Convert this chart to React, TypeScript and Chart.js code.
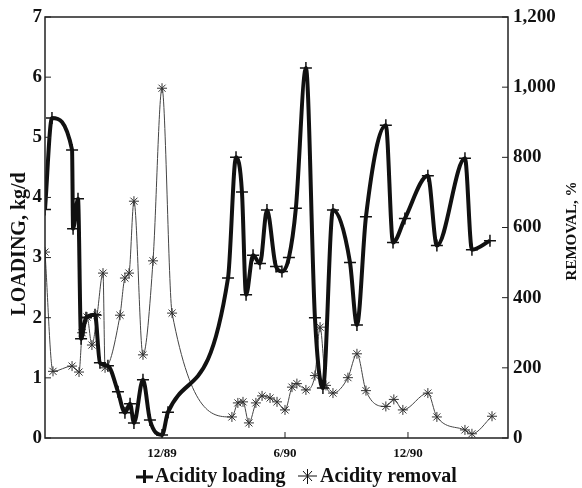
import { useEffect, useRef } from 'react';
import { Chart, registerables } from 'chart.js';

Chart.register(...registerables);

// x values are month numbers counted from January 1989 (12/89 = 11)
const loadingMonth = [5.29, 5.63, 6.61, 6.66, 6.9, 7.05, 7.29, 7.73, 7.97, 8.36, 8.85, 9.19, 9.44, 9.63, 10.07, 10.41, 11.0, 11.29, 14.22, 14.61, 14.9, 15.1, 15.44, 15.78, 16.12, 16.56, 16.85, 17.19, 17.53, 18.02, 18.46, 18.85, 19.34, 20.17, 20.51, 20.95, 21.92, 22.27, 22.85, 23.97, 24.41, 25.78, 26.12, 27.0];
const loadingKgD = [3.8, 5.32, 4.79, 3.48, 3.98, 1.65, 2.0, 2.05, 1.25, 1.2, 0.77, 0.42, 0.57, 0.25, 0.97, 0.3, 0.05, 0.43, 2.66, 4.67, 4.09, 2.38, 3.04, 2.9, 3.79, 2.85, 2.77, 3.0, 3.82, 6.15, 2.0, 0.83, 3.79, 2.92, 1.88, 3.68, 5.2, 3.25, 3.65, 4.36, 3.2, 4.65, 3.13, 3.28];

const removalMonth = [5.29, 5.68, 6.61, 6.95, 7.1, 7.34, 7.58, 7.83, 8.12, 8.22, 8.95, 9.19, 9.39, 9.63, 10.07, 10.56, 11.0, 11.49, 14.41, 14.7, 14.95, 15.24, 15.58, 15.88, 16.27, 16.61, 17.0, 17.34, 17.58, 18.02, 18.46, 18.71, 19.0, 19.34, 20.07, 20.51, 20.95, 21.92, 22.31, 22.75, 23.97, 24.41, 25.78, 26.12, 27.1];
const removalPct = [530, 190, 205, 188, 300, 345, 265, 350, 470, 200, 350, 456, 470, 675, 237, 505, 997, 356, 60, 100, 103, 43, 100, 120, 114, 103, 80, 145, 155, 137, 178, 316, 150, 128, 172, 240, 135, 90, 110, 80, 128, 60, 23, 12, 62];

const xTickMonths = [11, 17, 23];
const xTickLabels = ['12/89', '6/90', '12/90'];

const X_MIN = 5.29;
const X_MAX = 27.88;

const SERIF = '"Liberation Serif", "Times New Roman", serif';
const INK = '#111';

const framePlugin = {
  id: 'frameAndText',
  afterDraw(chart: any) {
    const { ctx, chartArea } = chart;
    const { left, right, top, bottom } = chartArea;
    ctx.save();
    // frame
    ctx.strokeStyle = '#222';
    ctx.lineWidth = 1.5;
    ctx.strokeRect(left, top, right - left, bottom - top);
    // inside tick marks
    ctx.lineWidth = 1;
    const tl = 6;
    chart.scales.x.ticks.forEach((t: any) => {
      const px = chart.scales.x.getPixelForValue(t.value);
      ctx.beginPath();
      ctx.moveTo(px, bottom);
      ctx.lineTo(px, bottom - tl);
      ctx.stroke();
    });
    chart.scales.y.ticks.forEach((t: any) => {
      const py = chart.scales.y.getPixelForValue(t.value);
      ctx.beginPath();
      ctx.moveTo(left, py);
      ctx.lineTo(left + tl, py);
      ctx.stroke();
    });
    chart.scales.y1.ticks.forEach((t: any) => {
      const py = chart.scales.y1.getPixelForValue(t.value);
      ctx.beginPath();
      ctx.moveTo(right, py);
      ctx.lineTo(right - tl, py);
      ctx.stroke();
    });

    // axis titles
    ctx.fillStyle = INK;
    ctx.textAlign = 'center';
    ctx.textBaseline = 'middle';
    ctx.save();
    ctx.translate(20, 244);
    ctx.rotate(-Math.PI / 2);
    ctx.font = `bold 20px ${SERIF}`;
    ctx.fillText('LOADING, kg/d', 0, 0);
    ctx.restore();
    ctx.save();
    ctx.translate(572, 231);
    ctx.rotate(-Math.PI / 2);
    ctx.font = `bold 15px ${SERIF}`;
    ctx.fillText('REMOVAL, %', 0, 0);
    ctx.restore();

    // legend
    const ly = 477;
    ctx.strokeStyle = INK;
    ctx.lineWidth = 3;
    ctx.beginPath();
    ctx.moveTo(136, ly);
    ctx.lineTo(153, ly);
    ctx.moveTo(144.5, ly - 7);
    ctx.lineTo(144.5, ly + 6);
    ctx.stroke();
    ctx.lineWidth = 1;
    ctx.beginPath();
    ctx.moveTo(298, ly - 1);
    ctx.lineTo(317, ly - 1);
    ctx.moveTo(307.5, ly - 8);
    ctx.lineTo(307.5, ly + 7);
    ctx.moveTo(303, ly - 6);
    ctx.lineTo(312, ly + 4);
    ctx.moveTo(312, ly - 6);
    ctx.lineTo(303, ly + 4);
    ctx.stroke();
    ctx.textAlign = 'left';
    ctx.font = `bold 20px ${SERIF}`;
    ctx.fillText('Acidity loading', 155, ly);
    ctx.fillText('Acidity removal', 320, ly);
    ctx.restore();
  },
};

export default function App() {
  const ref = useRef<HTMLCanvasElement>(null);
  useEffect(() => {
    if (!ref.current) return;
    const chart = new Chart(ref.current, {
      type: 'line',
      data: {
        datasets: [
          {
            label: 'Acidity loading',
            data: loadingMonth.map((m, i) => ({ x: m, y: loadingKgD[i] })),
            yAxisID: 'y',
            borderColor: INK,
            borderWidth: 4,
            pointStyle: 'cross',
            pointRadius: 6,
            pointBorderWidth: 1.5,
            pointBorderColor: INK,
            pointBackgroundColor: INK,
            cubicInterpolationMode: 'monotone',
            fill: false,
          },
          {
            label: 'Acidity removal',
            data: removalMonth.map((m, i) => ({ x: m, y: removalPct[i] })),
            yAxisID: 'y1',
            borderColor: '#444',
            borderWidth: 1,
            pointStyle: 'star',
            pointRadius: 5,
            pointBorderWidth: 1,
            pointBorderColor: '#333',
            pointBackgroundColor: '#333',
            cubicInterpolationMode: 'monotone',
            fill: false,
          },
        ],
      },
      options: {
        animation: false,
        responsive: false,
        layout: { padding: { top: 17, left: 0, right: 0, bottom: 0 } },
        plugins: { legend: { display: false }, tooltip: { enabled: false } },
        scales: {
          x: {
            type: 'linear',
            min: X_MIN,
            max: X_MAX,
            grid: { display: false, drawTicks: false },
            border: { display: false },
            afterBuildTicks: (s: any) => {
              s.ticks = xTickMonths.map((v) => ({ value: v }));
            },
            afterFit: (s: any) => {
              s.height = 50;
            },
            ticks: {
              autoSkip: false,
              maxRotation: 0,
              padding: 8,
              color: INK,
              font: { family: SERIF, size: 13, weight: 'bold' },
              callback: (v: any) => {
                const i = xTickMonths.indexOf(Number(v));
                return i >= 0 ? xTickLabels[i] : '';
              },
            },
          },
          y: {
            type: 'linear',
            position: 'left',
            min: 0,
            max: 7,
            grid: { display: false, drawTicks: false },
            border: { display: false },
            afterFit: (s: any) => {
              s.width = 45;
            },
            ticks: {
              stepSize: 1,
              padding: 3,
              color: INK,
              font: { family: SERIF, size: 19, weight: 'bold' },
            },
          },
          y1: {
            type: 'linear',
            position: 'right',
            min: 0,
            max: 1200,
            grid: { display: false, drawTicks: false },
            border: { display: false },
            afterFit: (s: any) => {
              s.width = 74;
            },
            ticks: {
              stepSize: 200,
              padding: 5,
              color: INK,
              font: { family: SERIF, size: 19, weight: 'bold' },
            },
          },
        },
      },
      plugins: [framePlugin],
    } as any);
    return () => chart.destroy();
  }, []);
  return (
    <div style={{ position: 'absolute', left: 0, top: 0, width: 582, height: 488, background: '#fff' }}>
      <canvas ref={ref} width={582} height={488} style={{ display: 'block' }} />
    </div>
  );
}
